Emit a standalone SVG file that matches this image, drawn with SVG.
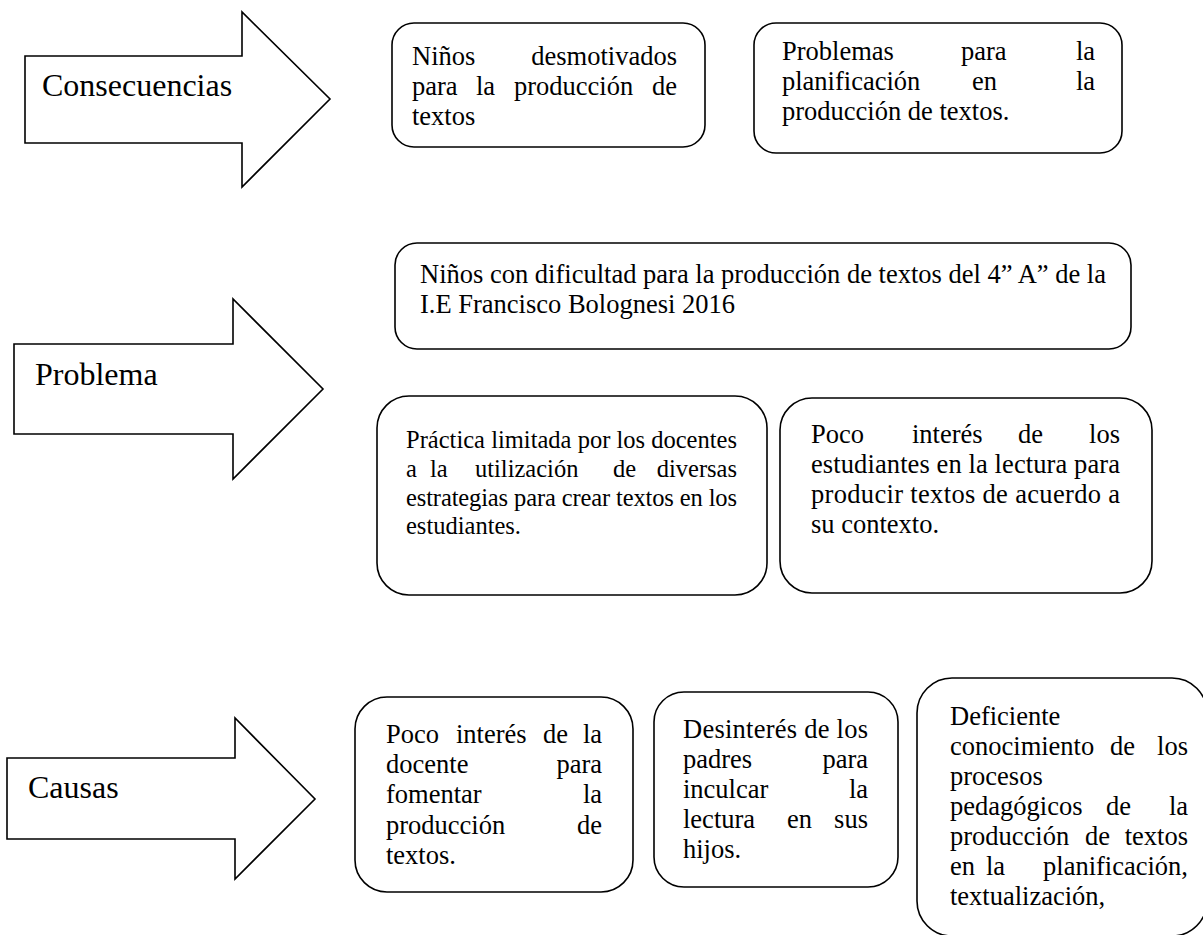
<svg xmlns="http://www.w3.org/2000/svg" width="1203" height="935" viewBox="0 0 1203 935">
<style>
.shape{fill:#fff;stroke:#000;stroke-width:1.6}
.t{font-family:"Liberation Serif","Times New Roman",serif;font-size:26.5px;fill:#000}
.s{font-size:24.5px}
.lbl{font-family:"Liberation Serif","Times New Roman",serif;font-size:32px;fill:#000}
.e{text-anchor:end}
</style>
<rect width="1203" height="935" fill="#fff"/>
<g id="arrows">
<g id="arrow-consecuencias">
<polygon class="shape" points="25,56 242,56 242,12 330,99 242,187 242,143 25,143"/>
<text class="lbl" x="42" y="96">Consecuencias</text>
</g>
<g id="arrow-problema">
<polygon class="shape" points="14,344 233,344 233,299 323,389 233,479 233,434 14,434"/>
<text class="lbl" x="35" y="385">Problema</text>
</g>
<g id="arrow-causas">
<polygon class="shape" points="7,758 235,758 235,718 315,799 235,879 235,839 7,839"/>
<text class="lbl" x="28" y="798">Causas</text>
</g>
</g>
<g id="connectors"></g>
<g id="cons1">
<rect class="shape" x="392" y="23" width="313" height="124" rx="22"/>
<text class="t" y="65"><tspan x="412">Niños</tspan><tspan class="e" x="677">desmotivados</tspan></text>
<text class="t" y="95"><tspan x="412">para</tspan><tspan x="476">la</tspan><tspan x="514">producción</tspan><tspan class="e" x="677">de</tspan></text>
<text class="t" x="412" y="125">textos</text>
</g>
<g id="cons2">
<rect class="shape" x="754" y="23" width="368" height="130" rx="22"/>
<text class="t" y="60"><tspan x="782">Problemas</tspan><tspan x="961">para</tspan><tspan class="e" x="1095">la</tspan></text>
<text class="t" y="90"><tspan x="782">planificación</tspan><tspan x="972">en</tspan><tspan class="e" x="1095">la</tspan></text>
<text class="t" x="782" y="120">producción de textos.</text>
</g>
<g id="problema">
<rect class="shape" x="395" y="243" width="736" height="106" rx="22"/>
<text class="t" x="420" y="283" textLength="686" lengthAdjust="spacing">Niños con dificultad para la producción de textos del 4” A” de la</text>
<text class="t" x="420" y="313">I.E Francisco Bolognesi 2016</text>
</g>
<g id="prob1">
<rect class="shape" x="377" y="396" width="390" height="199" rx="32"/>
<text class="t s" x="406" y="448" textLength="331" lengthAdjust="spacing">Práctica limitada por los docentes</text>
<text class="t s" y="477"><tspan x="406">a</tspan><tspan x="430">la</tspan><tspan x="475">utilización</tspan><tspan x="613">de</tspan><tspan class="e" x="737">diversas</tspan></text>
<text class="t s" x="406" y="506" textLength="331" lengthAdjust="spacing">estrategias para crear textos en los</text>
<text class="t s" x="406" y="534">estudiantes.</text>
</g>
<g id="prob2">
<rect class="shape" x="780" y="398" width="372" height="195" rx="32"/>
<text class="t" y="443"><tspan x="811">Poco</tspan><tspan x="912">interés</tspan><tspan x="1018">de</tspan><tspan class="e" x="1120">los</tspan></text>
<text class="t" x="811" y="473" textLength="309" lengthAdjust="spacing">estudiantes en la lectura para</text>
<text class="t" x="811" y="503" textLength="309" lengthAdjust="spacing">producir textos de acuerdo a</text>
<text class="t" x="811" y="533">su contexto.</text>
</g>
<g id="causa1">
<rect class="shape" x="355" y="697" width="278" height="195" rx="32"/>
<text class="t" y="743"><tspan x="386">Poco</tspan><tspan x="456">interés</tspan><tspan x="543">de</tspan><tspan class="e" x="602">la</tspan></text>
<text class="t" y="773"><tspan x="386">docente</tspan><tspan class="e" x="602">para</tspan></text>
<text class="t" y="803"><tspan x="386">fomentar</tspan><tspan class="e" x="602">la</tspan></text>
<text class="t" y="834"><tspan x="386">producción</tspan><tspan class="e" x="602">de</tspan></text>
<text class="t" x="386" y="864">textos.</text>
</g>
<g id="causa2">
<rect class="shape" x="654" y="692" width="244" height="195" rx="30"/>
<text class="t" x="683" y="738" textLength="185" lengthAdjust="spacing">Desinterés de los</text>
<text class="t" y="768"><tspan x="683">padres</tspan><tspan class="e" x="868">para</tspan></text>
<text class="t" y="798"><tspan x="683">inculcar</tspan><tspan class="e" x="868">la</tspan></text>
<text class="t" y="828"><tspan x="683">lectura</tspan><tspan x="787">en</tspan><tspan class="e" x="868">sus</tspan></text>
<text class="t" x="683" y="858">hijos.</text>
</g>
<g id="causa3">
<rect class="shape" x="917" y="678" width="290" height="258" rx="35"/>
<text class="t" x="950" y="725">Deficiente</text>
<text class="t" y="755"><tspan x="950">conocimiento</tspan><tspan x="1110">de</tspan><tspan class="e" x="1188">los</tspan></text>
<text class="t" x="950" y="785">procesos</text>
<text class="t" y="815"><tspan x="950">pedagógicos</tspan><tspan x="1106">de</tspan><tspan class="e" x="1188">la</tspan></text>
<text class="t" y="845"><tspan x="950">producción</tspan><tspan x="1085">de</tspan><tspan class="e" x="1188">textos</tspan></text>
<text class="t" y="875"><tspan x="950">en</tspan><tspan x="986">la</tspan><tspan class="e" x="1188">planificación,</tspan></text>
<text class="t" x="950" y="905">textualización,</text>
</g>
</svg>
